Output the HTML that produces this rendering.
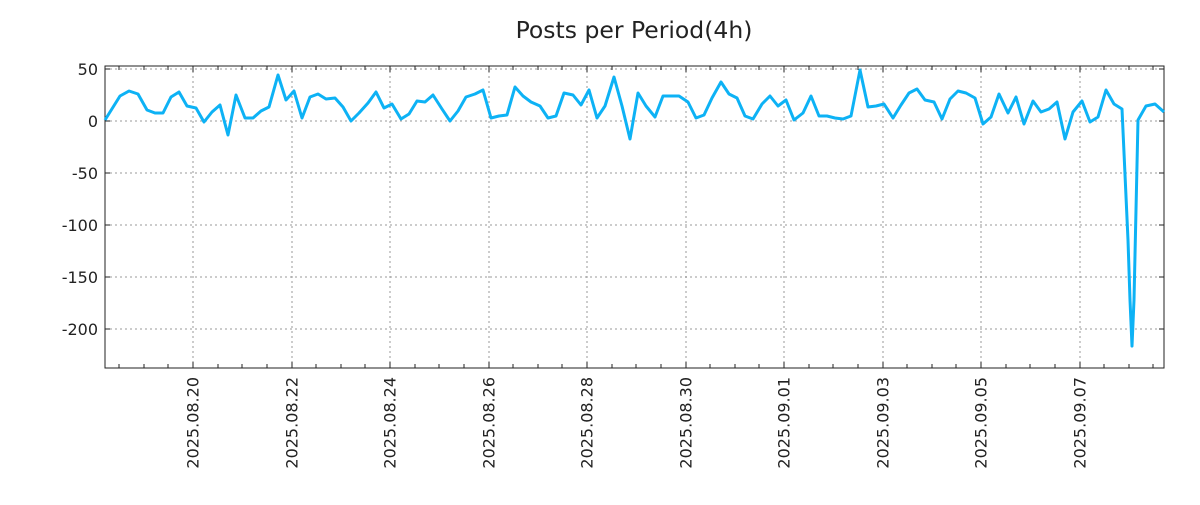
<!DOCTYPE html>
<html><head><meta charset="utf-8"><style>
body{margin:0;background:#fff;}
svg text{font-family:"DejaVu Sans","Liberation Sans",sans-serif;fill:#222;}
</style></head><body>
<svg width="1200" height="500" viewBox="0 0 1200 500" xmlns="http://www.w3.org/2000/svg">
<rect width="1200" height="500" fill="#fff"/>
<text x="634" y="38" font-size="23.5" text-anchor="middle">Posts per Period(4h)</text>
<g stroke="#999" stroke-width="1" stroke-dasharray="2,3">
<line x1="105" y1="69" x2="1164" y2="69"/><line x1="105" y1="121" x2="1164" y2="121"/>
<line x1="105" y1="173" x2="1164" y2="173"/><line x1="105" y1="225" x2="1164" y2="225"/>
<line x1="105" y1="277" x2="1164" y2="277"/><line x1="105" y1="329" x2="1164" y2="329"/>
<line x1="193" y1="66" x2="193" y2="368"/><line x1="292" y1="66" x2="292" y2="368"/>
<line x1="390" y1="66" x2="390" y2="368"/><line x1="489" y1="66" x2="489" y2="368"/>
<line x1="587" y1="66" x2="587" y2="368"/><line x1="686" y1="66" x2="686" y2="368"/>
<line x1="784" y1="66" x2="784" y2="368"/><line x1="883" y1="66" x2="883" y2="368"/>
<line x1="981" y1="66" x2="981" y2="368"/><line x1="1080" y1="66" x2="1080" y2="368"/>
</g>
<rect x="105" y="66" width="1059" height="302" fill="none" stroke="#222" stroke-width="1"/>
<g stroke="#222" stroke-width="1">
<path d="M105 69h5M105 121h5M105 173h5M105 225h5M105 277h5M105 329h5M1164 69h-5M1164 121h-5M1164 173h-5M1164 225h-5M1164 277h-5M1164 329h-5"/>
<path d="M119 66v4M144 66v4M168 66v4M193 66v6M218 66v4M242 66v4M267 66v4M292 66v6M316 66v4M341 66v4M365 66v4M390 66v6M415 66v4M439 66v4M464 66v4M489 66v6M513 66v4M538 66v4M562 66v4M587 66v6M612 66v4M636 66v4M661 66v4M686 66v6M710 66v4M735 66v4M759 66v4M784 66v6M809 66v4M833 66v4M858 66v4M883 66v6M907 66v4M932 66v4M956 66v4M981 66v6M1006 66v4M1030 66v4M1055 66v4M1080 66v6M1104 66v4M1129 66v4M1153 66v4"/>
<path d="M119 368v-4M144 368v-4M168 368v-4M193 368v-6M218 368v-4M242 368v-4M267 368v-4M292 368v-6M316 368v-4M341 368v-4M365 368v-4M390 368v-6M415 368v-4M439 368v-4M464 368v-4M489 368v-6M513 368v-4M538 368v-4M562 368v-4M587 368v-6M612 368v-4M636 368v-4M661 368v-4M686 368v-6M710 368v-4M735 368v-4M759 368v-4M784 368v-6M809 368v-4M833 368v-4M858 368v-4M883 368v-6M907 368v-4M932 368v-4M956 368v-4M981 368v-6M1006 368v-4M1030 368v-4M1055 368v-4M1080 368v-6M1104 368v-4M1129 368v-4M1153 368v-4"/>
</g>
<g font-size="16" text-anchor="end">
<text x="98" y="75">50</text><text x="98" y="127">0</text><text x="98" y="179">-50</text>
<text x="98" y="231">-100</text><text x="98" y="283">-150</text><text x="98" y="335">-200</text>
</g>
<g font-size="16" text-anchor="end">
<text transform="translate(198.5,377) rotate(-90)">2025.08.20</text>
<text transform="translate(297.5,377) rotate(-90)">2025.08.22</text>
<text transform="translate(395.5,377) rotate(-90)">2025.08.24</text>
<text transform="translate(494.5,377) rotate(-90)">2025.08.26</text>
<text transform="translate(592.5,377) rotate(-90)">2025.08.28</text>
<text transform="translate(691.5,377) rotate(-90)">2025.08.30</text>
<text transform="translate(789.5,377) rotate(-90)">2025.09.01</text>
<text transform="translate(888.5,377) rotate(-90)">2025.09.03</text>
<text transform="translate(986.5,377) rotate(-90)">2025.09.05</text>
<text transform="translate(1085.5,377) rotate(-90)">2025.09.07</text>
</g>
<polyline fill="none" stroke="#0db2f5" stroke-width="3" stroke-linejoin="round" points="105,120 120,96 129,91 138,94 147,110 155,113 163,113 171,97 179,92 187,106 196,108 204,122 212,112 220,105 228,135 236,95 245,118 253,118 261,111 269,107 278,75 286,100 294,91 302,118 310,97 318,94 326,99 335,98 343,107 351,121 359,113 368,103 376,92 384,108 392,104 401,119 409,114 417,101 425,102 433,95 442,109 450,121 458,111 466,97 475,94 483,90 491,118 499,116 507,115 515,87 523,96 531,102 540,106 548,118 556,116 564,93 573,95 581,105 589,90 597,118 605,106 614,77 622,106 630,139 638,93 646,106 655,117 663,96 671,96 679,96 688,102 696,118 704,115 712,98 721,82 729,94 737,98 745,116 753,119 762,104 770,96 778,106 786,100 794,120 803,113 811,96 819,116 827,116 835,118 843,119 851,116 860,70 868,107 876,106 884,104 893,118 901,105 909,93 917,89 925,100 934,102 942,119 950,99 958,91 966,93 975,98 983,124 991,117 999,94 1008,113 1016,97 1024,124 1033,101 1041,112 1049,109 1057,102 1065,139 1073,112 1082,101 1090,122 1098,117 1106,90 1114,104 1122,109 1128,240 1130,300 1132,346 1134,300 1138,120 1146,106 1155,104 1164,112"/>
</svg>
</body></html>
